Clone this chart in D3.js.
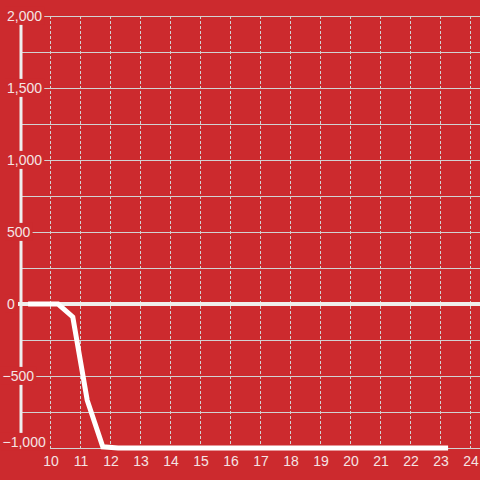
<!DOCTYPE html>
<html><head><meta charset="utf-8">
<script src="https://cdn.jsdelivr.net/npm/d3@7"></script>
<style>html,body{margin:0;padding:0;background:#cc2a2e;}svg{display:block;}</style>
</head><body>
<script>
const xTicks = [10,11,12,13,14,15,16,17,18,19,20,21,22,23,24];
const yTicks = [-1000,-500,0,500,1000,1500,2000];
const yGrid = [-1000,-750,-500,-250,0,250,500,750,1000,1250,1500,1750,2000];
const seriesX = [9.27,9.77,10.27,10.76,11.24,11.76,12.27,12.77,13.27,13.77,14.27,14.77,15.27,15.77,16.27,16.77,17.27,17.77,18.27,18.77,19.27,19.77,20.27,20.77,21.27,21.77,22.27,22.77,23.27];
const seriesY = [0,0,0,-90,-668,-992,-1000,-1000,-1000,-1000,-1000,-1000,-1000,-1000,-1000,-1000,-1000,-1000,-1000,-1000,-1000,-1000,-1000,-1000,-1000,-1000,-1000,-1000,-1000];

const W=480,H=480;
const bg="#cc2a2e", txt="#f4e4e4", grid="#d2d2d2";
const svg=d3.select("body").append("svg").attr("width",W).attr("height",H);
svg.append("rect").attr("width",W).attr("height",H).attr("fill",bg);
const x=d3.scaleLinear().domain([9,24.3333]).range([20,480]);
const y=d3.scaleLinear().domain([-1000,2000]).range([448,16]);

// horizontal grid
svg.append("g").selectAll("line").data(yGrid).join("line")
  .attr("x1",d=>d===-1000?x(10):x(9)).attr("x2",W)
  .attr("y1",d=>Math.round(y(d))+0.5).attr("y2",d=>Math.round(y(d))+0.5)
  .attr("stroke",grid).attr("stroke-width",1);
// vertical dashed grid
svg.append("g").selectAll("line").data(xTicks).join("line")
  .attr("x1",d=>Math.round(x(d))+0.5).attr("x2",d=>Math.round(x(d))+0.5)
  .attr("y1",y(2000)).attr("y2",y(-1000))
  .attr("stroke",grid).attr("stroke-width",1).attr("stroke-dasharray","3,2");
// y axis line
svg.append("line").attr("x1",x(9)+1).attr("x2",x(9)+1).attr("y1",y(2000)).attr("y2",y(-1000))
  .attr("stroke","#eeeeee").attr("stroke-width",3);
// zero line
svg.append("line").attr("x1",18).attr("x2",W).attr("y1",y(0)).attr("y2",y(0))
  .attr("stroke","#f0eeec").attr("stroke-width",4);
// series
const pts=seriesX.map((d,i)=>[d,seriesY[i]]);
svg.append("path").datum(pts)
  .attr("d",d3.line().x(d=>x(d[0])).y(d=>y(d[1])))
  .attr("fill","none").attr("stroke","#ffffff").attr("stroke-width",5);

// y labels with background
const fmt=d3.format(",");
const yl=svg.append("g").style("font-family","'Liberation Sans', Arial, sans-serif").style("font-size","14px");
yTicks.forEach(v=>{
  let cy=y(v); if(v===-1000) cy-=6;
  const g=yl.append("g");
  const t=g.append("text").attr("x",v<0?2.5:7).attr("y",cy).attr("dy","0.35em").attr("fill",txt).text(fmt(v));
  const b=t.node().getBBox();
  g.insert("rect","text").attr("x",b.x-2).attr("y",b.y-1).attr("width",b.width+4).attr("height",b.height+2).attr("fill",bg);
});
// x labels
svg.append("g").style("font-family","'Liberation Sans', Arial, sans-serif").style("font-size","14px")
  .selectAll("text").data(xTicks).join("text")
  .attr("x",d=>x(d)+1).attr("y",466).attr("text-anchor","middle").attr("fill",txt).text(d=>d);
</script>
</body></html>
